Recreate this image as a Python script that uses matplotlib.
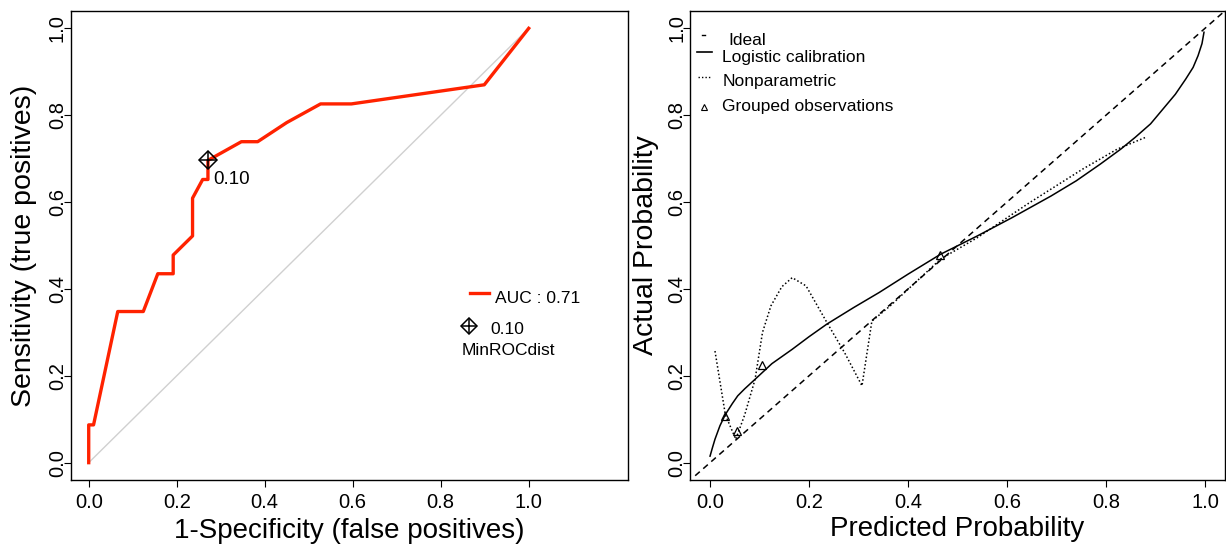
import numpy as np
import matplotlib.pyplot as plt

plt.rcParams['font.family'] = ['Liberation Sans', 'DejaVu Sans']

# ROC curve (left panel)
roc_fpr = [0.0, 0.0, 0.011, 0.066, 0.124, 0.157, 0.192, 0.192, 0.236, 0.236,
           0.259, 0.271, 0.271, 0.347, 0.384, 0.450, 0.527, 0.597, 0.899, 1.0]
roc_tpr = [0.0, 0.087, 0.087, 0.348, 0.348, 0.435, 0.435, 0.478, 0.522, 0.609,
           0.652, 0.652, 0.696, 0.739, 0.739, 0.783, 0.826, 0.826, 0.870, 1.0]
best_point = (0.271, 0.696)
best_label = '0.10'
auc_text = 'AUC : 0.71'

# calibration plot (right panel)
logistic_x = [0.0, 0.005, 0.010, 0.020, 0.031, 0.045, 0.056, 0.070, 0.091, 0.125,
              0.166, 0.200, 0.236, 0.290, 0.342, 0.400, 0.466, 0.540, 0.610,
              0.689, 0.740, 0.788, 0.830, 0.859, 0.890, 0.915, 0.940, 0.961,
              0.976, 0.986, 0.994, 0.998]
logistic_y = [0.015, 0.035, 0.054, 0.085, 0.111, 0.136, 0.154, 0.170, 0.192, 0.228,
              0.261, 0.290, 0.319, 0.357, 0.392, 0.434, 0.480, 0.522, 0.564,
              0.614, 0.649, 0.687, 0.722, 0.749, 0.780, 0.814, 0.848, 0.883,
              0.910, 0.937, 0.965, 0.991]
nonpar_x = [0.010, 0.031, 0.052, 0.070, 0.091, 0.106, 0.123, 0.145, 0.166, 0.194,
            0.236, 0.272, 0.307, 0.327, 0.364, 0.466, 0.540, 0.646, 0.753, 0.823, 0.880]
nonpar_y = [0.257, 0.110, 0.054, 0.110, 0.192, 0.300, 0.361, 0.405, 0.426, 0.407,
            0.323, 0.253, 0.177, 0.326, 0.361, 0.469, 0.518, 0.599, 0.676, 0.722, 0.749]
grouped_x = [0.030, 0.055, 0.105, 0.465]
grouped_y = [0.108, 0.074, 0.224, 0.479]

ticks = [0.0, 0.2, 0.4, 0.6, 0.8, 1.0]
red = '#ff2200'

fig = plt.figure(figsize=(12.26, 5.48), dpi=100)
ax1 = fig.add_axes([0.058, 0.124, 0.454, 0.856])
ax2 = fig.add_axes([0.563, 0.124, 0.436, 0.856])

for ax in (ax1, ax2):
    ax.set_xticks(ticks)
    ax.set_yticks(ticks)
    ax.set_xticklabels([f'{t:.1f}' for t in ticks])
    ax.set_yticklabels([f'{t:.1f}' for t in ticks], rotation=90, va='center')
    ax.tick_params(direction='out', length=5, width=0.8, labelsize=14.5)
    ax.tick_params(axis='y', pad=-2)
    ax.tick_params(axis='x', pad=4)
    for s in ax.spines.values():
        s.set_linewidth(1.0)

# left: ROC
ax1.plot([0, 1], [0, 1], color='#d0d0d0', lw=1)
ax1.plot(roc_fpr, roc_tpr, color=red, lw=2.4)
ax1.plot(*best_point, marker='D', ms=9, mfc='none', mec='black', mew=1.1)
ax1.plot(*best_point, marker='+', ms=13, mec='black', mew=1.1)
ax1.text(best_point[0] + 0.013, best_point[1] - 0.045, best_label, fontsize=13.5,
         va='center', ha='left')
ax1.set_xlim(-0.04, 1.225)
ax1.set_ylim(-0.04, 1.04)
ax1.set_xlabel('1-Specificity (false positives)', fontsize=20, labelpad=5)
ax1.set_ylabel('Sensitivity (true positives)', fontsize=20.5, labelpad=8)

# left legend
ax1.plot([0.866, 0.909], [0.391, 0.391], color=red, lw=2.4)
ax1.text(0.924, 0.378, auc_text, fontsize=12.5, va='center')
ax1.plot(0.864, 0.315, marker='D', ms=8, mfc='none', mec='black', mew=1.1)
ax1.plot(0.864, 0.315, marker='+', ms=11, mec='black', mew=1.1)
ax1.text(0.913, 0.307, best_label, fontsize=12.5, va='center')
ax1.text(0.847, 0.259, 'MinROCdist', fontsize=12.5, va='center')

# right: calibration
ax2.plot([-0.03, 1.04], [-0.03, 1.04], color='black', lw=1.1, ls=(0, (4, 3)))
ax2.plot(logistic_x, logistic_y, color='black', lw=1.1)
ax2.plot(nonpar_x, nonpar_y, color='black', lw=1.1, ls=(0, (1, 1.5)))
ax2.plot(grouped_x, grouped_y, ls='none', marker='^', ms=6, mfc='none',
         mec='black', mew=0.9)
ax2.set_xlim(-0.04, 1.04)
ax2.set_ylim(-0.04, 1.04)
ax2.set_xlabel('Predicted Probability', fontsize=20, labelpad=3)
ax2.set_ylabel('Actual Probability', fontsize=20.5, labelpad=6)

# right legend
tr = ax2.transAxes
leg_y = [0.936, 0.900, 0.850, 0.796]
leg_txt = ['Ideal', 'Logistic calibration', 'Nonparametric', 'Grouped observations']
ax2.plot([0.022, 0.028], [leg_y[0] + 0.012] * 2, color='black', lw=1, transform=tr)
ax2.plot([0.012, 0.040], [leg_y[1] + 0.012] * 2, color='black', lw=1.2, transform=tr)
ax2.plot([0.015, 0.037], [leg_y[2] + 0.01] * 2, color='black', lw=1,
         ls=(0, (1, 1.5)), transform=tr)
ax2.plot([0.026], [leg_y[3]], marker='^', ms=4, mfc='none', mec='black',
         mew=0.8, transform=tr)
ax2.text(0.072, leg_y[0], leg_txt[0], fontsize=12.5, va='center', transform=tr)
for y, t in zip(leg_y[1:], leg_txt[1:]):
    ax2.text(0.060, y, t, fontsize=12.5, va='center', transform=tr)

fig.savefig('out.png', dpi=100)
